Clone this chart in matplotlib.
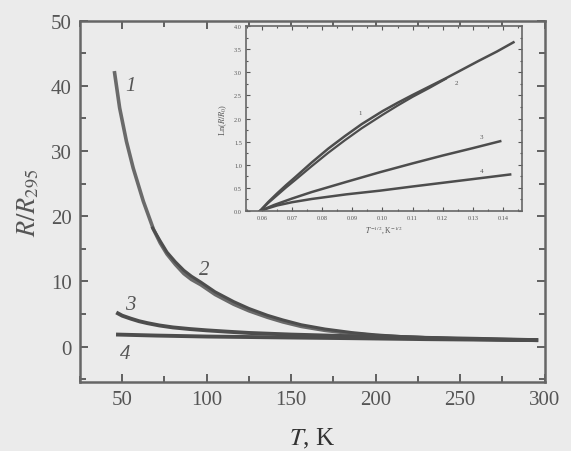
import numpy as np
import matplotlib
matplotlib.use('Agg')
import matplotlib.pyplot as plt
from matplotlib.ticker import MultipleLocator

# main panel: R/R295 vs T
t1 = [45.5, 48.5, 52.5, 56.5, 62.5, 68.5, 72.5, 76.5, 81.5, 86.5, 91, 96.5, 105, 116,
      125, 136, 145, 156, 170, 186, 200, 215, 240, 265, 295]
r1 = [42.0, 36.6, 31.5, 27.4, 22.3, 18.0, 15.9, 14.2, 12.6, 11.2, 10.3, 9.5, 8.0, 6.5,
      5.5, 4.5, 3.8, 3.1, 2.5, 2.0, 1.7, 1.5, 1.25, 1.1, 1.0]
t2 = [68, 72.5, 76.5, 81.5, 86.5, 91, 96.5, 105, 116, 125, 136, 145, 156, 170, 186,
      200, 215, 240, 265, 295]
r2 = [18.2, 16.2, 14.5, 13.0, 11.7, 10.8, 9.9, 8.4, 6.9, 5.85, 4.8, 4.1, 3.35, 2.7, 2.15,
      1.8, 1.55, 1.28, 1.12, 1.0]
t3 = [47.5, 50, 55, 60, 65, 72, 80, 90, 100, 112, 125, 150, 185, 220, 260, 295]
r3 = [5.1, 4.75, 4.3, 3.9, 3.6, 3.25, 2.95, 2.7, 2.5, 2.3, 2.1, 1.85, 1.6, 1.4, 1.2, 1.0]
t4 = [47.5, 70, 100, 150, 185, 230, 295]
r4 = [1.85, 1.7, 1.55, 1.4, 1.3, 1.15, 1.0]

# inset: Ln(R/R0) vs T^-1/2
x1 = [0.0593, 0.062, 0.065, 0.068, 0.071, 0.0765, 0.082, 0.0875, 0.0931, 0.100, 0.105,
      0.110, 0.1155, 0.121, 0.1265, 0.132, 0.138, 0.1435]
y1 = [0.0, 0.19, 0.38, 0.56, 0.73, 1.05, 1.35, 1.62, 1.88, 2.16, 2.34, 2.51, 2.69, 2.87,
      3.06, 3.25, 3.45, 3.65]
x2 = [0.0593, 0.062, 0.065, 0.068, 0.071, 0.0765, 0.082, 0.0875, 0.0931, 0.100, 0.105,
      0.110, 0.1155, 0.121]
y2 = [0.0, 0.17, 0.34, 0.51, 0.67, 0.97, 1.26, 1.53, 1.79, 2.08, 2.28, 2.47, 2.66, 2.86]
x3 = [0.0593, 0.064, 0.07, 0.0765, 0.088, 0.0992, 0.11, 0.12, 0.13, 0.1391]
y3 = [0.0, 0.13, 0.27, 0.41, 0.63, 0.84, 1.03, 1.20, 1.36, 1.51]
x4 = [0.0593, 0.062, 0.065, 0.07, 0.0765, 0.088, 0.0992, 0.11, 0.12, 0.13, 0.1424]
y4 = [0.0, 0.06, 0.12, 0.19, 0.26, 0.36, 0.44, 0.53, 0.61, 0.69, 0.79]

bg = '#ebebeb'
ink = '#555555'
line = '#4d4d4d'

plt.rcParams['font.family'] = ['Liberation Serif', 'DejaVu Serif']
plt.rcParams['mathtext.fontset'] = 'stix'

fig = plt.figure(figsize=(5.71, 4.52), dpi=100, facecolor=bg)
ax = fig.add_axes([0.140, 0.153, 0.814, 0.799], facecolor=bg)

ax.plot(t1, r1, color='#6a6a6a', lw=2.6)
ax.plot(t2, r2, color=line, lw=2.2)
ax.plot(t3, r3, color=line, lw=2.8)
ax.plot(t4, r4, color=line, lw=2.8)

ax.text(54.8, 40.0, '1', fontsize=15, style='italic', color=ink, ha='center', va='center')
ax.text(98.4, 11.8, '2', fontsize=15, style='italic', color=ink, ha='center', va='center')
ax.text(54.8, 6.5, '3', fontsize=15, style='italic', color=ink, ha='center', va='center')
ax.text(51.8, -1.1, '4', fontsize=15, style='italic', color=ink, ha='center', va='center')

ax.set_xlim(25, 300)
ax.set_ylim(-5.4, 50)
ax.xaxis.set_minor_locator(MultipleLocator(25))
ax.yaxis.set_major_locator(MultipleLocator(10))
ax.yaxis.set_minor_locator(MultipleLocator(5))
ax.set_xticks([50, 100, 150, 200, 250, 300])
ax.tick_params(which='both', direction='in', top=True, right=True, colors=ink,
               labelsize=15, width=1.3)
ax.tick_params(which='major', length=6, pad=6)
ax.tick_params(which='minor', length=4)
for s in ax.spines.values():
    s.set_color('#666666')
    s.set_linewidth(1.8)

ax.set_xlabel('$T$, K', fontsize=18, color='#333333', labelpad=12)
ax.set_ylabel('$R/R_{295}$', fontsize=19, color=ink, labelpad=8)

# inset
ins = fig.add_axes([0.431, 0.531, 0.483, 0.409], facecolor=bg)
ins.plot(x1, y1, color=line, lw=1.8)
ins.plot(x2, y2, color=line, lw=1.6)
ins.plot(x3, y3, color=line, lw=1.8)
ins.plot(x4, y4, color=line, lw=1.8)
ins.text(0.0926, 2.13, '1', fontsize=5, color=ink, ha='center', va='center')
ins.text(0.1245, 2.78, '2', fontsize=5, color=ink, ha='center', va='center')
ins.text(0.133, 1.62, '3', fontsize=5, color=ink, ha='center', va='center')
ins.text(0.133, 0.87, '4', fontsize=5, color=ink, ha='center', va='center')
ins.set_xlim(0.0547, 0.1463)
ins.set_ylim(0, 4.0)
ins.xaxis.set_minor_locator(MultipleLocator(0.005))
ins.yaxis.set_minor_locator(MultipleLocator(0.25))
ins.set_xticks(np.arange(0.06, 0.1401, 0.01))
ins.set_xticklabels(['0.06', '0.07', '0.08', '0.09', '0.10', '0.11', '0.12', '0.13', '0.14'])
ins.set_yticks(np.arange(0, 4.01, 0.5))
ins.set_yticklabels(['%.1f' % v for v in np.arange(0, 4.01, 0.5)])
ins.tick_params(which='both', direction='in', top=True, right=True, colors=ink,
                labelsize=4.5, width=0.8, pad=3)
ins.tick_params(which='major', length=3)
ins.tick_params(which='minor', length=1.5)
for s in ins.spines.values():
    s.set_color('#666666')
    s.set_linewidth(1.2)
ins.set_xlabel('$T^{-1/2}$, K$^{-1/2}$', fontsize=5.5, color=ink, labelpad=2)
ins.set_ylabel('Ln($R/R_0$)', fontsize=6, color=ink, labelpad=4)

fig.savefig('out.png', dpi=100, facecolor=bg)
